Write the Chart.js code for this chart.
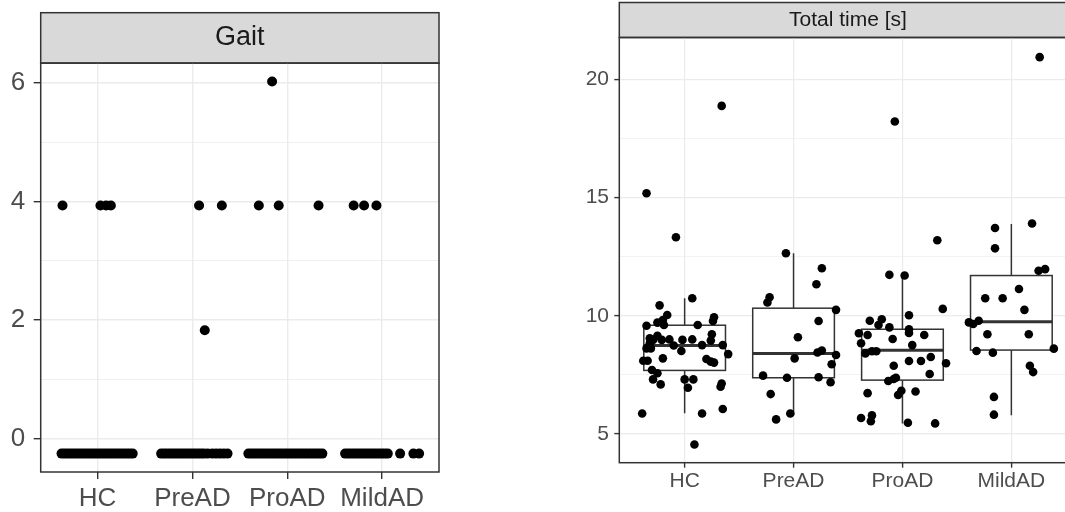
<!DOCTYPE html>
<html>
<head>
<meta charset="utf-8">
<script src="https://cdn.jsdelivr.net/npm/chart.js@4.4.1/dist/chart.umd.min.js"></script>
<style>
  html, body { margin: 0; padding: 0; background: #fff; overflow: hidden; width: 1065px; height: 512px; }
  #gaitChart { position: absolute; left: 0; top: 0; }
  #timeChart { position: absolute; left: 545px; top: 0; }
</style>
</head>
<body>
<canvas id="gaitChart" width="470" height="512"></canvas>
<canvas id="timeChart" width="545" height="512"></canvas>
<script>
// groups on the x axis
var categories = ['HC', 'PreAD', 'ProAD', 'MildAD'];

// Gait panel: jitter offset from the group centre, and value
var gaitHC_x = [-0.38, -0.35, -0.32, -0.29, -0.26, -0.23, -0.20, -0.17, -0.14, -0.11, -0.08, -0.05, -0.02, 0.01, 0.04, 0.07, 0.10, 0.13, 0.16, 0.19, 0.22, 0.25, 0.28, 0.31, 0.34, 0.37, -0.37, 0.03, 0.09, 0.14];
var gaitHC_y = [-0.25, -0.25, -0.25, -0.25, -0.25, -0.25, -0.25, -0.25, -0.25, -0.25, -0.25, -0.25, -0.25, -0.25, -0.25, -0.25, -0.25, -0.25, -0.25, -0.25, -0.25, -0.25, -0.25, -0.25, -0.25, -0.25, 3.93, 3.93, 3.93, 3.93];
var gaitPreAD_x = [-0.33, -0.30, -0.27, -0.24, -0.21, -0.18, -0.15, -0.12, -0.09, -0.06, -0.03, 0.00, 0.03, 0.06, 0.09, 0.12, 0.16, 0.21, 0.25, 0.29, 0.33, 0.37, 0.07, 0.31, 0.13];
var gaitPreAD_y = [-0.25, -0.25, -0.25, -0.25, -0.25, -0.25, -0.25, -0.25, -0.25, -0.25, -0.25, -0.25, -0.25, -0.25, -0.25, -0.25, -0.25, -0.25, -0.25, -0.25, -0.25, -0.25, 3.93, 3.93, 1.83];
var gaitProAD_x = [-0.41, -0.38, -0.35, -0.32, -0.29, -0.26, -0.23, -0.20, -0.17, -0.14, -0.11, -0.08, -0.05, -0.02, 0.01, 0.04, 0.07, 0.10, 0.13, 0.16, 0.19, 0.22, 0.25, 0.28, 0.31, 0.34, 0.37, -0.30, -0.09, 0.33, -0.16];
var gaitProAD_y = [-0.25, -0.25, -0.25, -0.25, -0.25, -0.25, -0.25, -0.25, -0.25, -0.25, -0.25, -0.25, -0.25, -0.25, -0.25, -0.25, -0.25, -0.25, -0.25, -0.25, -0.25, -0.25, -0.25, -0.25, -0.25, -0.25, -0.25, 3.93, 3.93, 3.93, 6.02];
var gaitMildAD_x = [-0.39, -0.36, -0.33, -0.30, -0.27, -0.24, -0.21, -0.18, -0.15, -0.12, -0.09, -0.06, -0.03, 0.00, 0.03, 0.06, 0.19, 0.33, 0.39, -0.30, -0.19, -0.06];
var gaitMildAD_y = [-0.25, -0.25, -0.25, -0.25, -0.25, -0.25, -0.25, -0.25, -0.25, -0.25, -0.25, -0.25, -0.25, -0.25, -0.25, -0.25, -0.25, -0.25, -0.25, 3.93, 3.93, 3.93];

// Total time panel: jitter offset and value
var timeHC_x = [-0.35, -0.08, 0.34, 0.07, -0.23, -0.16, -0.20, -0.25, -0.35, -0.19, 0.12, 0.27, 0.26, -0.32, -0.29, -0.21, -0.14, -0.02, 0.07, 0.25, 0.24, -0.35, -0.31, -0.10, 0.16, 0.35, -0.03, -0.20, 0.20, 0.24, 0.27, 0.40, -0.38, -0.34, -0.30, -0.25, -0.29, -0.22, 0.00, 0.08, 0.03, 0.34, 0.33, -0.39, 0.16, 0.35, 0.09, -0.32, -0.25];
var timeHC_y = [15.18, 13.32, 18.87, 10.74, 10.44, 10.03, 9.82, 9.71, 9.58, 9.61, 9.61, 9.94, 9.78, 9.05, 8.98, 8.98, 9.00, 8.98, 9.00, 9.22, 8.95, 8.62, 8.62, 8.74, 8.76, 8.76, 8.51, 8.20, 8.17, 8.06, 8.02, 8.38, 8.10, 8.10, 7.71, 7.57, 7.31, 7.10, 7.31, 7.31, 6.96, 7.14, 7.00, 5.87, 5.87, 6.06, 4.56, 8.84, 9.15];
var timePreAD_x = [-0.07, 0.26, 0.21, -0.22, -0.24, 0.39, 0.23, 0.04, 0.26, 0.22, 0.39, 0.01, 0.35, -0.28, -0.06, 0.23, 0.34, -0.21, -0.03, -0.16];
var timePreAD_y = [12.64, 12.01, 11.33, 10.78, 10.56, 10.25, 9.78, 9.09, 8.53, 8.45, 8.34, 8.20, 7.95, 7.47, 7.38, 7.40, 7.19, 6.69, 5.87, 5.62];
var timeProAD_x = [-0.07, 0.32, -0.12, 0.02, 0.37, 0.06, -0.19, -0.30, -0.22, -0.12, 0.06, 0.06, -0.40, -0.32, 0.20, -0.38, -0.09, 0.09, -0.34, -0.28, -0.24, 0.26, 0.06, 0.17, 0.40, -0.08, 0.25, -0.13, -0.08, -0.06, 0.12, -0.01, -0.04, -0.32, -0.38, -0.28, -0.29, 0.05, 0.30];
var timeProAD_y = [18.21, 13.19, 11.73, 11.70, 10.29, 10.02, 9.85, 9.79, 9.61, 9.51, 9.43, 9.27, 9.26, 9.19, 9.19, 8.84, 9.02, 8.76, 8.41, 8.50, 8.50, 8.26, 8.09, 8.09, 7.99, 7.89, 7.54, 7.24, 7.33, 7.38, 6.80, 6.83, 6.65, 6.73, 5.68, 5.79, 5.54, 5.48, 5.45];
var timeMildAD_x = [0.26, 0.19, -0.15, -0.15, 0.31, 0.25, 0.07, -0.24, -0.08, 0.12, -0.39, -0.35, -0.30, -0.22, 0.16, 0.39, -0.32, -0.17, 0.17, 0.20, -0.16, -0.16];
var timeMildAD_y = [20.93, 13.90, 13.71, 12.85, 11.97, 11.90, 11.13, 10.74, 10.74, 10.25, 9.72, 9.65, 9.79, 9.22, 9.22, 8.61, 8.51, 8.44, 7.89, 7.62, 6.57, 5.82];

// box plot stats for total time (HC, PreAD, ProAD, MildAD)
var boxLow = [5.88, 5.80, 5.45, 5.80];
var boxQ1 = [7.69, 7.38, 7.28, 8.55];
var boxMed = [8.74, 8.41, 8.54, 9.75];
var boxQ3 = [9.60, 10.32, 9.43, 11.70];
var boxHigh = [10.74, 12.64, 11.73, 13.88];

// axis ticks
var gaitTicks = [0, 2, 4, 6];
var gaitMinor = [1, 3, 5];
var timeTicks = [5, 10, 15, 20];
var timeMinor = [7.5, 12.5, 17.5];

var FONT = '"Liberation Sans", Arial, sans-serif';

function points(offsets, values, group) {
    return offsets.map(function(o, i) { return { x: group + 1 + o, y: values[i] }; });
}

function scatterSet(offsets, values, group, r) {
    return {
        data: points(offsets, values, group),
        backgroundColor: '#000',
        borderWidth: 0,
        pointRadius: r,
        pointHoverRadius: r
    };
}

// grey strip behind the panel title
var stripPlugin = {
    id: 'strip',
    beforeDraw: function(chart) {
        var t = chart.titleBlock, a = chart.chartArea, ctx = chart.ctx;
        ctx.save();
        ctx.fillStyle = '#d9d9d9';
        ctx.fillRect(a.left, t.top, a.right - a.left, t.bottom - t.top);
        ctx.strokeStyle = '#333';
        ctx.lineWidth = 1.5;
        ctx.strokeRect(a.left, t.top, a.right - a.left, t.bottom - t.top);
        ctx.restore();
    }
};

// panel border on top of the points
var framePlugin = {
    id: 'frame',
    afterDatasetsDraw: function(chart) {
        var a = chart.chartArea, ctx = chart.ctx;
        ctx.save();
        ctx.strokeStyle = '#333';
        ctx.lineWidth = 1.5;
        ctx.strokeRect(a.left, a.top, a.right - a.left, a.bottom - a.top);
        ctx.restore();
    }
};

// boxes, whiskers and medians, placed through the chart scales
var boxPlugin = {
    id: 'boxes',
    beforeDatasetsDraw: function(chart) {
        var ctx = chart.ctx, xs = chart.scales.x, ys = chart.scales.y;
        ctx.save();
        ctx.strokeStyle = '#333';
        categories.forEach(function(c, i) {
            var xm = xs.getPixelForValue(i + 1);
            var xl = xs.getPixelForValue(i + 1 - 0.375);
            var xr = xs.getPixelForValue(i + 1 + 0.375);
            var yLo = ys.getPixelForValue(boxLow[i]);
            var y1 = ys.getPixelForValue(boxQ1[i]);
            var yMed = ys.getPixelForValue(boxMed[i]);
            var y3 = ys.getPixelForValue(boxQ3[i]);
            var yHi = ys.getPixelForValue(boxHigh[i]);
            ctx.lineWidth = 1.5;
            ctx.beginPath();
            ctx.moveTo(xm, yHi); ctx.lineTo(xm, y3);
            ctx.moveTo(xm, y1); ctx.lineTo(xm, yLo);
            ctx.stroke();
            ctx.fillStyle = '#fff';
            ctx.fillRect(xl, y3, xr - xl, y1 - y3);
            ctx.strokeRect(xl, y3, xr - xl, y1 - y3);
            ctx.lineWidth = 3;
            ctx.beginPath();
            ctx.moveTo(xl, yMed); ctx.lineTo(xr, yMed);
            ctx.stroke();
        });
        ctx.restore();
    }
};

function makePanel(id, p) {
    var allY = p.major.concat(p.minor).sort(function(a, b) { return a - b; });
    var isMajor = function(ctx) { return ctx.tick && p.major.indexOf(ctx.tick.value) >= 0; };
    return new Chart(document.getElementById(id).getContext('2d'), {
        type: 'scatter',
        data: { datasets: p.datasets },
        plugins: p.plugins,
        options: {
            responsive: false,
            animation: false,
            layout: { padding: { top: p.padTop, left: 0, right: p.padRight, bottom: 0 } },
            plugins: {
                legend: { display: false },
                tooltip: { enabled: false },
                title: {
                    display: true,
                    text: p.title,
                    fullSize: false,
                    color: '#1a1a1a',
                    font: { family: FONT, size: p.titleSize, weight: 'normal', lineHeight: 1.2 },
                    padding: { top: p.titlePad, bottom: p.titlePad }
                }
            },
            scales: {
                x: {
                    type: 'linear',
                    min: 0.4,
                    max: 4.6,
                    afterBuildTicks: function(scale) {
                        scale.ticks = categories.map(function(c, i) { return { value: i + 1 }; });
                    },
                    afterFit: function(scale) { scale.height = p.xHeight; },
                    border: { display: false },
                    grid: { color: '#ebebeb', lineWidth: p.majorW, tickColor: '#333', tickLength: p.tickLen, tickWidth: 1.4 },
                    ticks: {
                        autoSkip: false,
                        maxRotation: 0,
                        padding: p.xPad,
                        color: '#4d4d4d',
                        font: { family: FONT, size: p.tickSize },
                        callback: function(v) { return categories[Math.round(v) - 1]; }
                    }
                },
                y: {
                    type: 'linear',
                    min: p.yMin,
                    max: p.yMax,
                    afterBuildTicks: function(scale) {
                        scale.ticks = allY.map(function(v) { return { value: v }; });
                    },
                    afterFit: function(scale) { scale.width = p.yWidth; },
                    border: { display: false },
                    grid: {
                        color: '#ebebeb',
                        lineWidth: function(ctx) { return isMajor(ctx) ? p.majorW : p.minorW; },
                        tickColor: function(ctx) { return isMajor(ctx) ? '#333' : 'rgba(0,0,0,0)'; },
                        tickLength: p.tickLen,
                        tickWidth: 1.4
                    },
                    ticks: {
                        padding: p.yPad,
                        color: '#4d4d4d',
                        font: { family: FONT, size: p.tickSize },
                        callback: function(v) { return p.major.indexOf(v) >= 0 ? String(v) : ''; }
                    }
                }
            }
        }
    });
}

makePanel('gaitChart', {
    title: 'Gait',
    titleSize: 27,
    titlePad: 9,
    tickSize: 26,
    padTop: 12.7,
    padRight: 31,
    yWidth: 40.7,
    xHeight: 40,
    tickLen: 7,
    xPad: 4.5,
    yPad: 8.5,
    majorW: 1.4,
    minorW: 0.8,
    yMin: -0.56,
    yMax: 6.33,
    major: gaitTicks,
    minor: gaitMinor,
    plugins: [stripPlugin, framePlugin],
    datasets: [
        scatterSet(gaitHC_x, gaitHC_y, 0, 5),
        scatterSet(gaitPreAD_x, gaitPreAD_y, 1, 5),
        scatterSet(gaitProAD_x, gaitProAD_y, 2, 5),
        scatterSet(gaitMildAD_x, gaitMildAD_y, 3, 5)
    ]
});

makePanel('timeChart', {
    title: 'Total time [s]',
    titleSize: 21,
    titlePad: 4.9,
    tickSize: 21,
    padTop: 2.5,
    padRight: 13.3,
    yWidth: 74.3,
    xHeight: 49.3,
    tickLen: 5,
    xPad: 0.5,
    yPad: 5.3,
    majorW: 1.2,
    minorW: 0.6,
    yMin: 3.79,
    yMax: 21.76,
    major: timeTicks,
    minor: timeMinor,
    plugins: [stripPlugin, boxPlugin, framePlugin],
    datasets: [
        scatterSet(timeHC_x, timeHC_y, 0, 4.3),
        scatterSet(timePreAD_x, timePreAD_y, 1, 4.3),
        scatterSet(timeProAD_x, timeProAD_y, 2, 4.3),
        scatterSet(timeMildAD_x, timeMildAD_y, 3, 4.3)
    ]
});
</script>
</body>
</html>
